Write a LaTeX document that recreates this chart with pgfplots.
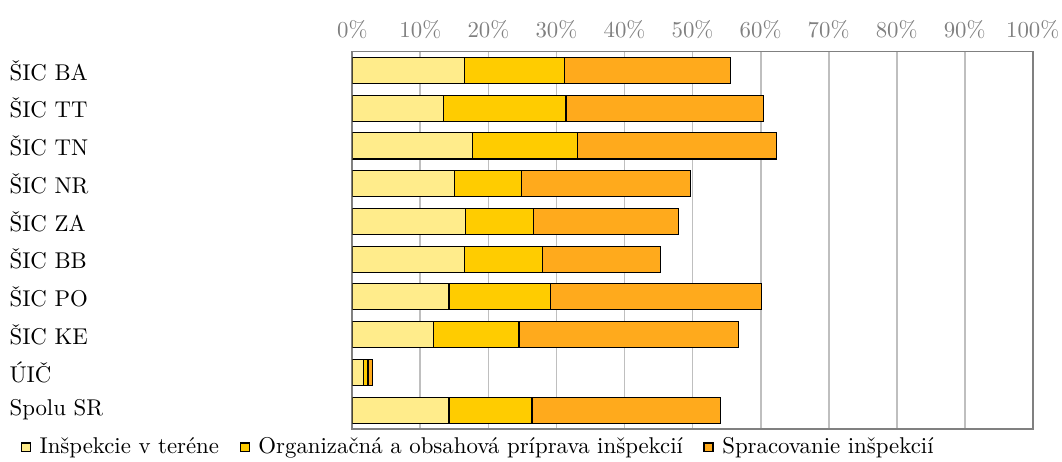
\documentclass[border=0pt]{standalone}
\usepackage{pgfplots}
\pgfplotsset{compat=1.18}
\definecolor{c1}{RGB}{255,236,139}
\definecolor{c2}{RGB}{255,204,0}
\definecolor{c3}{RGB}{255,170,28}
\definecolor{axgray}{RGB}{128,128,128}
\definecolor{gridgray}{RGB}{191,191,191}
\begin{document}
\begin{tikzpicture}
\begin{axis}[
  scale only axis,
  width=298.2pt, height=165.4pt,
  xbar stacked, bar width=11.4pt,
  xmin=0, xmax=100, ymin=-0.5, ymax=9.5, y dir=reverse,
  xtick={0,10,...,100},
  xticklabel pos=upper,
  xticklabel={\pgfmathprintnumber{\tick}\%},
  xticklabel style={text=axgray, inner xsep=0pt, yshift=2pt},
  xmajorgrids,
  major grid style={gridgray, line width=0.8pt},
  axis line style={axgray, line width=0.8pt},
  major tick length=0pt,
  ytick={0,...,9},
  yticklabels={ŠIC BA, ŠIC TT, ŠIC TN, ŠIC NR, ŠIC ZA, ŠIC BB, ŠIC PO, ŠIC KE, ÚIČ, Spolu SR},
  yticklabel style={text width=150pt, align=left, inner sep=0pt},
  every axis plot/.append style={draw=black, line width=0.5pt},
  legend columns=3,
  legend image code/.code={\draw[#1,draw=black,line width=0.5pt] (0pt,-1.9pt) rectangle (3.9pt,2pt); \path[draw=none,fill=none] (0pt,0pt) rectangle (6pt,0.1pt);},
  legend style={draw=none, fill=none, inner sep=0pt, at={(-0.488,-0.01)}, anchor=north west,
    /tikz/every even column/.append style={column sep=7pt}},
]
\addplot[fill=c1] coordinates {(16.5,0) (13.4,1) (17.6,2) (15.0,3) (16.6,4) (16.5,5) (14.2,6) (11.9,7) (1.7,8) (14.2,9)};
\addplot[fill=c2] coordinates {(14.7,0) (18.0,1) (15.5,2) (9.8,3) (10.0,4) (11.5,5) (14.9,6) (12.6,7) (0.6,8) (12.2,9)};
\addplot[fill=c3] coordinates {(24.4,0) (29.0,1) (29.2,2) (24.9,3) (21.3,4) (17.3,5) (31.0,6) (32.2,7) (0.7,8) (27.7,9)};
\legend{Inšpekcie v teréne, Organizačná a obsahová príprava inšpekcií, Spracovanie inšpekcií}
\end{axis}
\path ([xshift=-154.4pt,yshift=22.6pt]current axis.north west) rectangle ([xshift=12.8pt,yshift=-13pt]current axis.south east);
\end{tikzpicture}
\end{document}
